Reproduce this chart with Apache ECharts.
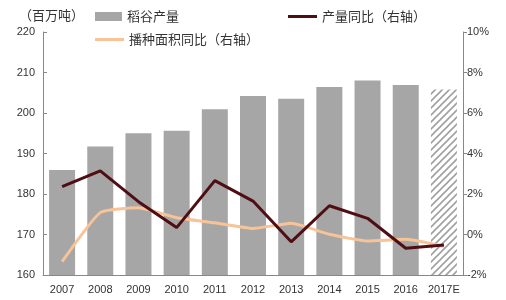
<!DOCTYPE html>
<html><head><meta charset="utf-8">
<script src="https://cdn.jsdelivr.net/npm/echarts@6/dist/echarts.min.js"></script>
<style>html,body{margin:0;padding:0;background:#fff}#c{width:506px;height:300px}</style>
</head><body><div id="c"></div>
<script>
const categories = ['2007','2008','2009','2010','2011','2012','2013','2014','2015','2016','2017E'];
const riceOutput = [185.9, 191.7, 195.0, 195.6, 200.9, 204.2, 203.5, 206.4, 208.0, 206.9, 205.8];
const outputYoY = [2.36, 3.14, 1.62, 0.34, 2.66, 1.65, -0.36, 1.42, 0.8, -0.68, -0.52];
const areaYoY = [-1.34, 1.08, 1.32, 0.83, 0.58, 0.3, 0.55, 0.01, -0.32, -0.24, -0.6];
const leftTicks = [160, 220, 10];
const rightTicks = [-2, 10, 2];

const pc = document.createElement('canvas');
pc.width = 7; pc.height = 7;
const g = pc.getContext('2d');
g.fillStyle = '#fff'; g.fillRect(0,0,7,7);
g.strokeStyle = '#a0a0a0'; g.lineWidth = 1.6;
g.beginPath(); g.moveTo(-1,8); g.lineTo(8,-1); g.stroke();
g.beginPath(); g.moveTo(-1,1); g.lineTo(1,-1); g.stroke();
g.beginPath(); g.moveTo(6,8); g.lineTo(8,6); g.stroke();

const barData = riceOutput.map((v,i)=> i===riceOutput.length-1 ? {value:v, itemStyle:{color:{image:pc, repeat:'repeat'}}} : v);
const font = '"Noto Sans CJK SC", sans-serif';
const chart = echarts.init(document.getElementById('c'));
chart.setOption({
  animation:false,
  title:{text:'（百万吨）', left:14, top:4, textStyle:{fontSize:13, fontWeight:'normal', color:'#333', fontFamily:font}},
  legend:[
    {data:['稻谷产量'], left:90, top:5, itemWidth:27, itemHeight:9, itemGap:4, textStyle:{fontSize:13,color:'#333',fontFamily:font}, icon:'rect'},
    {data:['产量同比（右轴）'], left:283, top:5, itemWidth:29, itemHeight:3, textStyle:{fontSize:13,color:'#333',fontFamily:font}, icon:'rect'},
    {data:['播种面积同比（右轴）'], left:90, top:28, itemWidth:29, itemHeight:3, textStyle:{fontSize:13,color:'#333',fontFamily:font}, icon:'rect'}
  ],
  grid:{left:43, right:43, top:32, bottom:25},
  xAxis:{type:'category', data:categories,
    axisLine:{onZero:false, lineStyle:{color:'#888'}},
    axisTick:{inside:true, length:4, interval:0, lineStyle:{color:'#888'}},
    axisLabel:{fontSize:11, color:'#333', margin:9, interval:0, fontFamily:'Arial, "Liberation Sans", sans-serif'}},
  yAxis:[
    {type:'value', min:leftTicks[0], max:leftTicks[1], interval:leftTicks[2],
      axisLine:{show:true, lineStyle:{color:'#888'}}, axisTick:{show:true, inside:true, length:4, lineStyle:{color:'#888'}},
      splitLine:{show:false}, axisLabel:{fontSize:11, color:'#333', margin:8, fontFamily:'Arial, "Liberation Sans", sans-serif'}},
    {type:'value', min:rightTicks[0], max:rightTicks[1], interval:rightTicks[2], position:'right',
      axisLine:{show:true, lineStyle:{color:'#888'}}, axisTick:{show:true, length:4, lineStyle:{color:'#888'}},
      splitLine:{show:false}, axisLabel:{fontSize:11, color:'#333', margin:4, formatter:'{value}%', fontFamily:'Arial, "Liberation Sans", sans-serif'}}
  ],
  series:[
    {name:'稻谷产量', type:'bar', data:barData, barWidth:26, itemStyle:{color:'#a6a6a6'}},
    {name:'播种面积同比（右轴）', type:'line', yAxisIndex:1, data:areaYoY, symbol:'none', smooth:0.15,
      lineStyle:{width:3, color:'#f7c397'}, itemStyle:{color:'#f7c397'}},
    {name:'产量同比（右轴）', type:'line', yAxisIndex:1, data:outputYoY, symbol:'none',
      lineStyle:{width:3, color:'#4e0e14'}, itemStyle:{color:'#4e0e14'}}
  ]
});
</script></body></html>
